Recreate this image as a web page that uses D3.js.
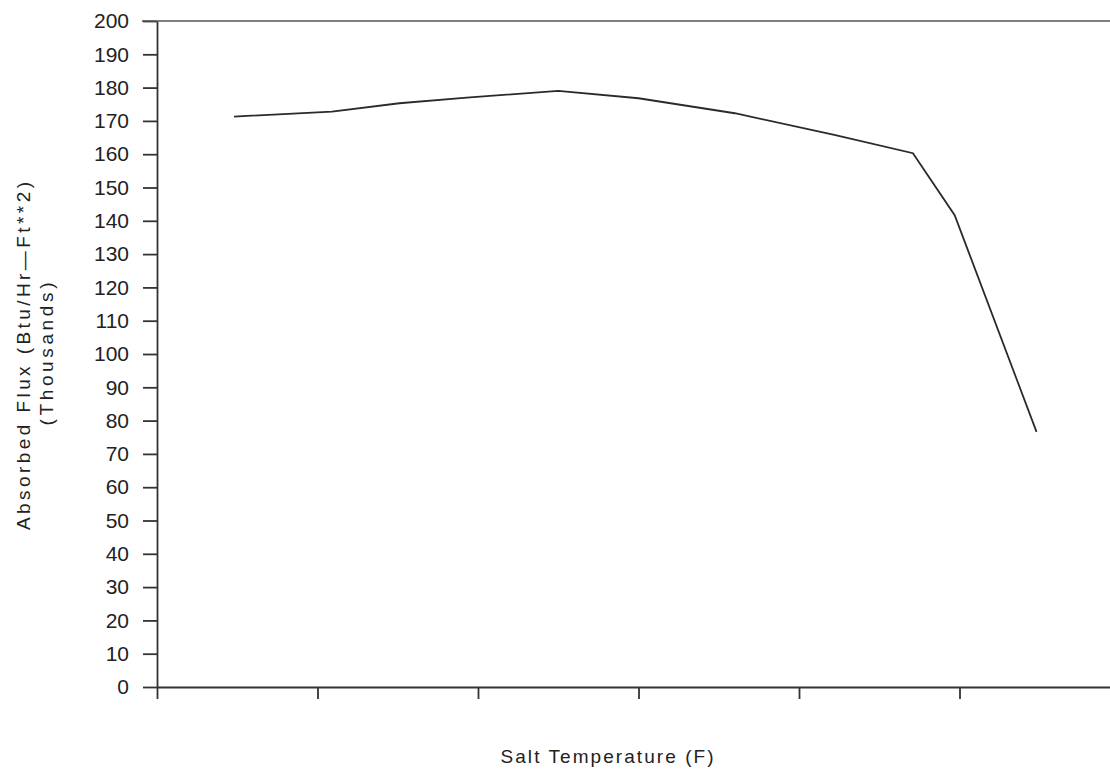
<!DOCTYPE html>
<html>
<head>
<meta charset="utf-8">
<script src="https://cdn.jsdelivr.net/npm/d3@7"></script>
<style>
body { margin: 0; background: #fff; }
text { font-family: "Liberation Sans", Arial, sans-serif; fill: #222; }
</style>
</head>
<body>
<div id="chart"></div>
<script>
// salt temperature, in x tick steps (the axis carries no labels)
const saltTemp = [0.48, 1.09, 1.51, 1.93, 2.5, 3.0, 3.6, 4.22, 4.71, 4.97, 5.48];
// absorbed flux, thousands of Btu/Hr-Ft**2
const absorbedFlux = [171.3, 172.8, 175.3, 177.0, 179.0, 176.8, 172.3, 165.8, 160.3, 141.7, 76.6];
const yTicks = d3.range(0, 201, 10);
const xTicks = [0, 1, 2, 3, 4, 5, 6];

const margin = {top: 21, right: -10, bottom: 82, left: 157},
width = 1110 - margin.left - margin.right,
height = 769 - margin.top - margin.bottom;

const root = d3.select("#chart")
.append("svg")
.attr("width", 1110)
.attr("height", 769);

const svg = root.append("g")
.attr("transform", `translate(${margin.left},${margin.top})`);

// X axis
const x = d3.scaleLinear()
  .domain([0, 6])
  .range([0, width]);
const xAxis = svg.append("g")
  .attr("transform", `translate(0, ${height})`)
  .call(d3.axisBottom(x).tickValues(xTicks).tickSize(12).tickSizeOuter(0).tickFormat(""));

// Y axis
const y = d3.scaleLinear()
  .domain([0, 200])
  .range([height, 0]);
const yAxis = svg.append("g")
  .call(d3.axisLeft(y).tickValues(yTicks).tickSize(14).tickSizeOuter(0).tickPadding(14));
yAxis.selectAll("text")
  .style("font-size", "21px");

svg.selectAll(".domain, .tick line")
  .attr("stroke", "#333")
  .attr("stroke-width", 1.8);

// top frame line at 200
svg.append("line")
  .attr("x1", -15)
  .attr("x2", width)
  .attr("y1", y(200))
  .attr("y2", y(200))
  .attr("stroke", "#555")
  .attr("stroke-width", 1.6);

// the curve
const line = d3.line()
  .x(function(d, i) { return x(saltTemp[i]); })
  .y(function(d) { return y(d); });
svg.append("path")
  .datum(absorbedFlux)
  .attr("d", line)
  .attr("fill", "none")
  .attr("stroke", "#2a2a2a")
  .attr("stroke-width", 1.8);

// titles
root.append("text")
  .text("Salt Temperature (F)")
  .attr("x", 607)
  .attr("y", 763)
  .attr("text-anchor", "middle")
  .attr("textLength", 213)
  .attr("lengthAdjust", "spacing")
  .style("font-size", "19px");

root.append("text")
  .text("Absorbed Flux (Btu/Hr\u2014Ft**2)")
  .attr("transform", "translate(30,356) rotate(-90)")
  .attr("text-anchor", "middle")
  .attr("textLength", 348)
  .attr("lengthAdjust", "spacing")
  .style("font-size", "19px");

root.append("text")
  .text("(Thousands)")
  .attr("transform", "translate(53,354) rotate(-90)")
  .attr("text-anchor", "middle")
  .attr("textLength", 143)
  .attr("lengthAdjust", "spacing")
  .style("font-size", "19px");
</script>
</body>
</html>
